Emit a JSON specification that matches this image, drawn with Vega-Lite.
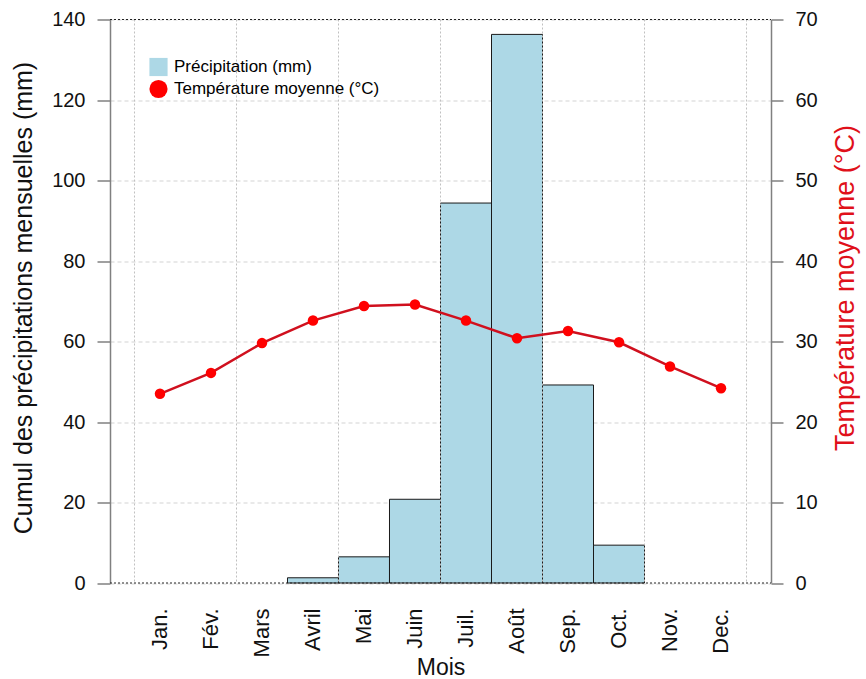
{
  "$schema": "https://vega.github.io/schema/vega-lite/v6.json",
  "width": 661,
  "height": 563.5,
  "autosize": {"type": "none"},
  "padding": {"left": 110, "top": 19.5, "right": 95, "bottom": 96},
  "background": "white",
  "config": {
    "font": "Liberation Sans",
    "view": {"stroke": null},
    "axis": {"labelFont": "Liberation Sans", "titleFont": "Liberation Sans", "titleFontWeight": "normal", "labelColor": "#111111", "titleColor": "#111111"},
    "legend": {"labelFont": "Liberation Sans"}
  },
  "datasets": {
    "mois": [
      {"mois": "Jan.", "precip": 0, "temp": 23.5},
      {"mois": "Fév.", "precip": 0, "temp": 26.1},
      {"mois": "Mars", "precip": 0, "temp": 29.8},
      {"mois": "Avril", "precip": 1.3, "temp": 32.6},
      {"mois": "Mai", "precip": 6.5, "temp": 34.4},
      {"mois": "Juin", "precip": 20.8, "temp": 34.6},
      {"mois": "Juil.", "precip": 94.4, "temp": 32.6},
      {"mois": "Août", "precip": 136.3, "temp": 30.4},
      {"mois": "Sep.", "precip": 49.2, "temp": 31.3},
      {"mois": "Oct.", "precip": 9.4, "temp": 29.9},
      {"mois": "Nov.", "precip": 0, "temp": 26.9},
      {"mois": "Dec.", "precip": 0, "temp": 24.2}
    ],
    "gridStart": [
      {"mois": "Jan."}, {"mois": "Mars"}, {"mois": "Mai"}, {"mois": "Juil."}, {"mois": "Sep."}, {"mois": "Nov."}
    ],
    "gridEnd": [{"mois": "Dec."}],
    "hlines": [{"v": 0}, {"v": 140}]
  },
  "data": {"name": "mois"},
  "encoding": {
    "x": {
      "field": "mois", "type": "nominal",
      "scale": {"domain": ["Jan.", "Fév.", "Mars", "Avril", "Mai", "Juin", "Juil.", "Août", "Sep.", "Oct.", "Nov.", "Dec."], "paddingInner": 0, "paddingOuter": 0.48},
      "axis": {"title": "Mois", "labelAngle": -90, "domain": false, "ticks": false, "labelPadding": 25, "labelFontSize": 22, "titleFontSize": 23, "titlePadding": 0, "grid": false}
    }
  },
  "layer": [
    {
      "mark": {"type": "bar", "stroke": "#1a1a1a", "strokeWidth": 1, "opacity": 1},
      "encoding": {
        "y": {
          "field": "precip", "type": "quantitative",
          "scale": {"domain": [0, 140], "nice": false},
          "axis": {"orient": "left", "title": "Cumul des précipitations mensuelles (mm)", "values": [0, 20, 40, 60, 80, 100, 120, 140], "tickSize": 13, "tickColor": "#808080", "tickWidth": 1.5, "domainColor": "#808080", "domainWidth": 1.5, "labelFontSize": 20, "labelPadding": 12, "titleFontSize": 25, "titleAngle": 270, "titleAlign": "center", "titleBaseline": "middle", "titleX": -86.7, "titleY": 278, "grid": true, "gridColor": "#d3d3d3", "gridDash": [4, 3], "gridWidth": 1}
        },
        "strokeOpacity": {"condition": {"test": "datum.precip == 0", "value": 0}, "value": 1},
        "color": {
          "datum": "Précipitation (mm)",
          "scale": {"domain": ["Précipitation (mm)", "Température moyenne (°C)"], "range": ["#ADD8E6", "#FF0000"]},
          "legend": {"title": null, "orient": "none", "legendX": 39, "legendY": 38, "labelFontSize": 17, "labelLimit": 0, "symbolSize": 330, "symbolStrokeWidth": 0, "rowPadding": 3, "labelOffset": 6, "symbolOpacity": 1}
        }
      }
    },
    {
      "data": {"name": "gridStart"},
      "mark": {"type": "rule", "color": "#c0c0c0", "strokeDash": [2, 2], "strokeWidth": 1},
      "encoding": {"x": {"field": "mois", "type": "nominal", "bandPosition": 0}}
    },
    {
      "data": {"name": "gridEnd"},
      "mark": {"type": "rule", "color": "#c0c0c0", "strokeDash": [2, 2], "strokeWidth": 1},
      "encoding": {"x": {"field": "mois", "type": "nominal", "bandPosition": 1}}
    },
    {
      "data": {"name": "hlines"},
      "mark": {"type": "rule", "color": "#222222", "strokeDash": [2, 2], "strokeWidth": 1},
      "encoding": {
        "x": {"value": 0},
        "x2": {"value": 661},
        "y": {"field": "v", "type": "quantitative", "scale": {"domain": [0, 140], "nice": false}, "axis": null}
      }
    },
    {
      "encoding": {
        "y": {
          "field": "temp", "type": "quantitative",
          "scale": {"domain": [0, 70], "nice": false},
          "axis": {"orient": "right", "title": "Température moyenne (°C)", "values": [0, 10, 20, 30, 40, 50, 60, 70], "tickSize": 12, "tickColor": "#808080", "tickWidth": 1.5, "domainColor": "#808080", "domainWidth": 1.5, "labelFontSize": 20, "labelPadding": 12, "titleFontSize": 27, "titleColor": "#E0101A", "titleAngle": 270, "titleAlign": "center", "titleBaseline": "middle", "titleX": 74.5, "titleY": 268, "grid": false}
        }
      },
      "layer": [
        {"mark": {"type": "line", "color": "#D0101E", "strokeWidth": 2.5}},
        {
          "mark": {"type": "point", "filled": true, "opacity": 1, "size": 110},
          "encoding": {
            "color": {"datum": "Température moyenne (°C)"},
            "shape": {
              "datum": "Température moyenne (°C)",
              "scale": {"domain": ["Précipitation (mm)", "Température moyenne (°C)"], "range": ["square", "circle"]},
              "legend": {"title": null, "orient": "none", "legendX": 39, "legendY": 38, "labelFontSize": 17, "labelLimit": 0, "symbolSize": 330, "symbolStrokeWidth": 0, "rowPadding": 3, "labelOffset": 6, "symbolOpacity": 1}
            }
          }
        }
      ]
    }
  ],
  "resolve": {"scale": {"y": "independent"}}
}
